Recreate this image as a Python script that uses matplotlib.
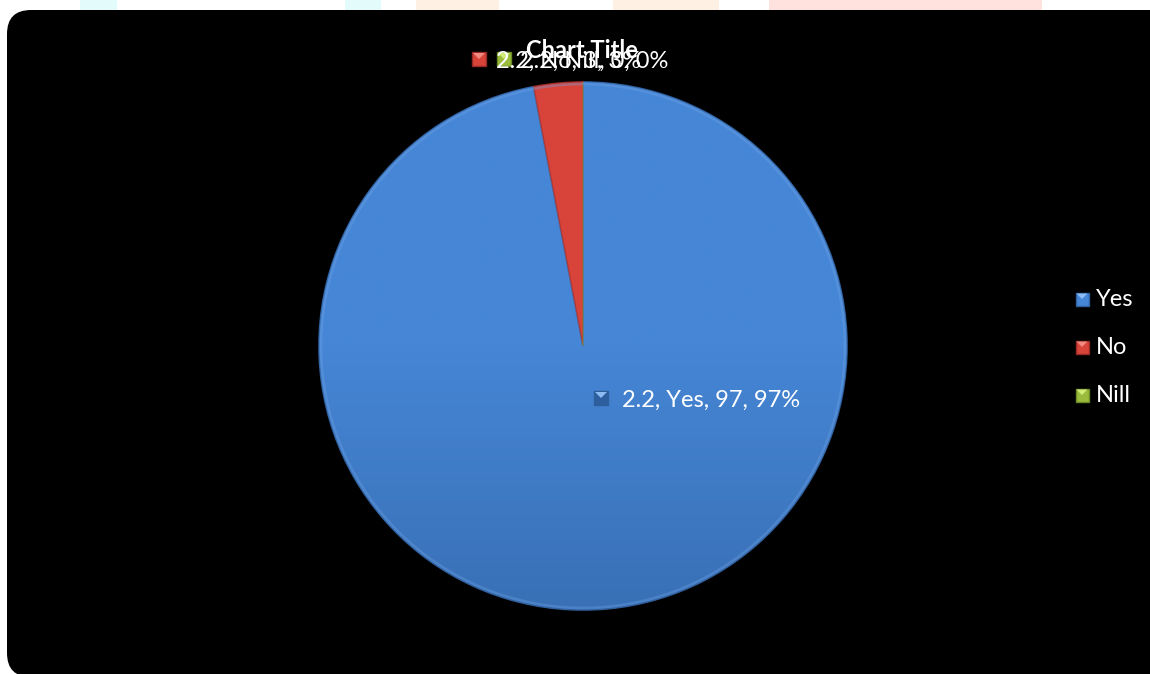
import numpy as np
import matplotlib
matplotlib.use("Agg")
import matplotlib.pyplot as plt
from matplotlib.patches import FancyBboxPatch, Rectangle, Polygon

plt.rcParams['font.family'] = ['Lato', 'DejaVu Sans']

categories = ["Yes", "No", "Nill"]
values = [97, 3, 0]
percents = [97, 3, 0]
series_name = "2.2"
colors = ["#4686d6", "#d8433a", "#9bbb3c"]
dark = ["#2f5f9c", "#962a24", "#6b8a26"]
light = ["#8cbcf2", "#f08a80", "#d2ec7a"]

W, H = 1150, 674
fig = plt.figure(figsize=(11.5, 6.74), dpi=100)
ax = fig.add_axes([0, 0, 1, 1])
ax.set_xlim(0, W)
ax.set_ylim(0, H)
ax.set_aspect("equal")
ax.axis("off")
fig.patch.set_facecolor("white")

# faint strips peeking out above the panel
for x0, x1, c in [(80, 117, "#e4fbfb"), (345, 381, "#e4fbfb"), (416, 499, "#fff0e4"),
                  (613, 719, "#fff0e4"), (769, 1042, "#ffe2dd")]:
    ax.add_patch(Rectangle((x0, H - 12), x1 - x0, 12, color=c, lw=0, zorder=0))

# black rounded panel
ax.add_patch(FancyBboxPatch((7, -3), W + 40, H - 10 + 3,
                            boxstyle="round,pad=0,rounding_size=24",
                            fc="black", ec="none", zorder=1))

cx, cy, r = 583, H - 346, 264
wedges, _ = ax.pie(values, colors=colors, startangle=90, counterclock=False,
                   center=(cx, cy), radius=r, frame=True,
                   wedgeprops=dict(linewidth=1.2, zorder=2))
ax.set_xlim(0, W)
ax.set_ylim(0, H)
ax.axis("off")

# vertical shading on each slice, lighter at the top
grad = np.linspace(1.0, 0.0, 256).reshape(-1, 1)
for w, c, d in zip(wedges, colors, dark):
    w.set_edgecolor(d)
    cmap = matplotlib.colors.LinearSegmentedColormap.from_list("g", [d, c, c])
    im = ax.imshow(grad, cmap=cmap, vmin=0, vmax=1, aspect="auto",
                   extent=(cx - r, cx + r, cy - r, cy + r), origin="upper",
                   zorder=2.5, alpha=0.55)
    im.set_clip_path(w)
    w.set_zorder(2)
ax.set_xlim(0, W)
ax.set_ylim(0, H)

# soft rim on the outside of the pie
theta = np.linspace(0, 2 * np.pi, 400)
ax.plot(cx + (r - 2) * np.cos(theta), cy + (r - 2) * np.sin(theta),
        color="#6fa3e6", lw=2, alpha=0.35, zorder=3)


def key_box(x, y, color, edge, hi, size=14, z=5):
    h = size / 2
    ax.add_patch(Rectangle((x - h, y - h), size, size,
                           fc=color, ec=edge, lw=1, zorder=z))
    # bevelled top face
    ax.add_patch(Polygon([(x - h + 1, y + h - 1), (x + h - 1, y + h - 1), (x, y)],
                         closed=True, fc=hi, ec="none", zorder=z + 0.1))


# data labels
label_pos = {"Yes": (601, H - 398), "No": (479, H - 59), "Nill": (504, H - 59)}
text_off = {"Yes": 21, "No": 17, "Nill": 16}
box_fill = {"Yes": "#2d5f9e", "No": colors[1], "Nill": colors[2]}
for cat, v, p, l, d in zip(categories, values, percents, light, dark):
    x, y = label_pos[cat]
    key_box(x, y, box_fill[cat], d, l)
    ax.text(x + text_off[cat], y - 2, f"{series_name}, {cat}, {v}, {p}%",
            color="white", fontsize=17, va="center", ha="left", zorder=6)

ax.text(582, H - 50, "Chart Title", color="white", fontsize=17,
        fontweight="bold", ha="center", va="center", zorder=7)

# legend
for i, (cat, c, d, l) in enumerate(zip(categories, colors, dark, light)):
    ly = H - (299 + 48 * i)
    key_box(1082, ly, c, d, l, size=13)
    ax.text(1096, ly - 1, cat, color="white", fontsize=17, va="center",
            ha="left", zorder=6)

fig.savefig("out.png", dpi=100, facecolor="white")
